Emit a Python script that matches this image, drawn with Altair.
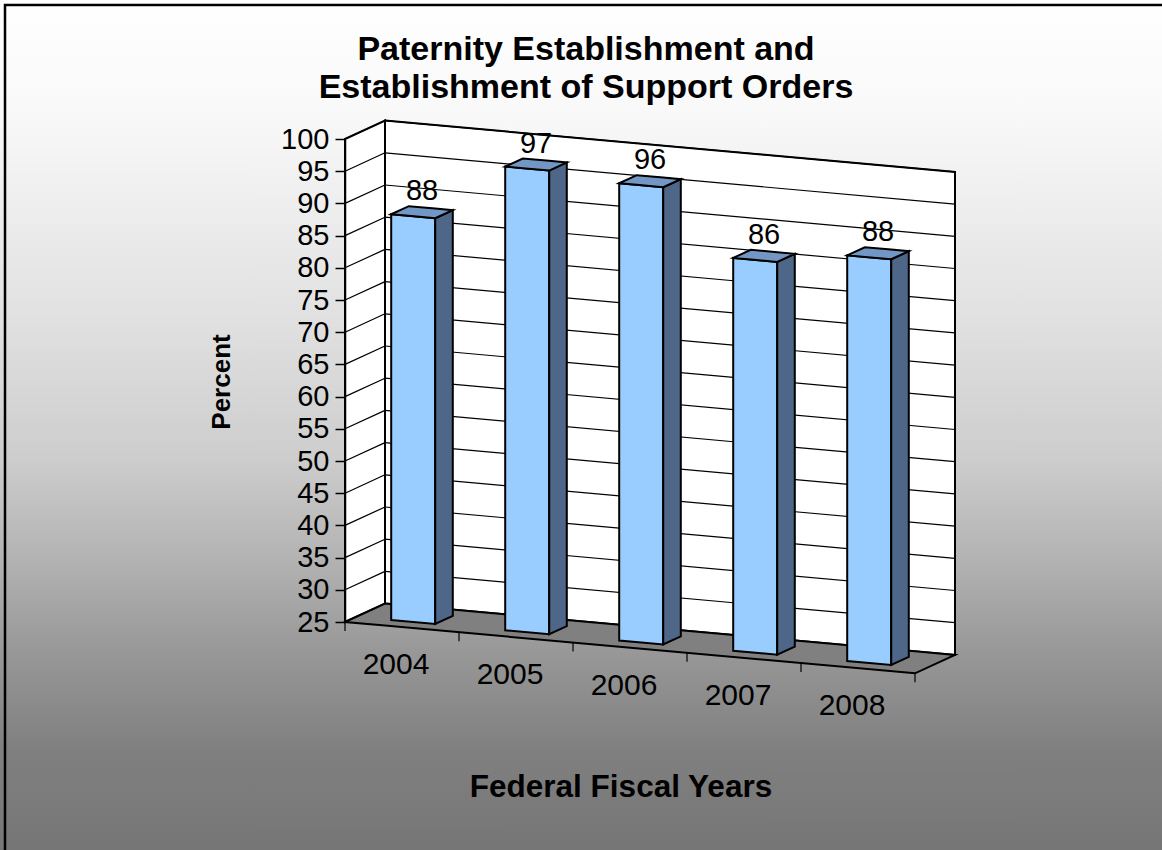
import altair as alt
import pandas as pd

# ---------------- data ----------------
years = [2004, 2005, 2006, 2007, 2008]
values = [88, 97, 96, 86, 88]
y_ticks = list(range(25, 105, 5))
title_lines = ["Paternity Establishment and", "Establishment of Support Orders"]
x_title = "Federal Fiscal Years"
y_title = "Percent"

# ---------------- layout / pseudo-3D geometry ----------------
CANVAS_W, CANVAS_H = 1162, 850
W, H = 570, 483
LEFT, TOP = 345, 139
Y_MIN, Y_MAX = 25, 100
X_MIN, X_MAX = 2003.5, 2008.5
KX = W / (X_MAX - X_MIN)
KY = H / (Y_MAX - Y_MIN)
DEPTH_X, DEPTH_Y = 40, 22      # px offset of back wall
TILT = 0.09                    # px down per px right (perspective tilt)
HALF_W = 22 / KX               # half width of bar front face
Z_FRONT, Z_BACK = 0.28, 0.72   # bar depth slice


def proj(u, v, z):
    X = u + z * DEPTH_X / KX
    Y = v + z * DEPTH_Y / KY - TILT * (X - X_MIN) * KX / KY
    return X, Y


def poly_rows(pts, pid, face):
    xs = sorted(set(round(p[0], 9) for p in pts))
    rows = []
    n = len(pts)
    for x in xs:
        ys = []
        for i in range(n):
            (x1, y1), (x2, y2) = pts[i], pts[(i + 1) % n]
            if abs(x1 - x) < 1e-8:
                ys.append(y1)
            if abs(x2 - x) < 1e-8:
                ys.append(y2)
            if (x1 - x) * (x2 - x) < 0:
                t = (x - x1) / (x2 - x1)
                ys.append(y1 + t * (y2 - y1))
        rows.append({"id": pid, "face": face, "X": x, "Y": max(ys), "Y2": min(ys)})
    return rows


# walls & floor
wall_rows = []
wall_rows += poly_rows([proj(X_MIN, Y_MIN, 0), proj(X_MIN, Y_MIN, 1),
                        proj(X_MIN, Y_MAX, 1), proj(X_MIN, Y_MAX, 0)], "leftwall", "wall")
wall_rows += poly_rows([proj(X_MIN, Y_MIN, 1), proj(X_MAX, Y_MIN, 1),
                        proj(X_MAX, Y_MAX, 1), proj(X_MIN, Y_MAX, 1)], "backwall", "wall")
wall_rows += poly_rows([proj(X_MIN, Y_MIN, 0), proj(X_MAX, Y_MIN, 0),
                        proj(X_MAX, Y_MIN, 1), proj(X_MIN, Y_MIN, 1)], "floor", "floor")
walls_df = pd.DataFrame(wall_rows)

# gridlines
grid_rows = []
for v in y_ticks[1:]:
    a = proj(X_MIN, v, 0)
    b = proj(X_MIN, v, 1)
    c = proj(X_MAX, v, 1)
    grid_rows.append({"X": a[0], "Y": a[1], "X2": b[0], "Y2": b[1]})
    grid_rows.append({"X": b[0], "Y": b[1], "X2": c[0], "Y2": c[1]})
# floor ticks between categories
for k in range(len(years) + 1):
    bx, by = proj(X_MIN + k, Y_MIN, 0)
    grid_rows.append({"X": bx, "Y": by, "X2": bx, "Y2": by - 9 / KY})
grid_df = pd.DataFrame(grid_rows)

# bars
bar_rows = []
for yr, val in zip(years, values):
    l, r = yr - HALF_W, yr + HALF_W
    bar_rows += poly_rows([proj(l, Y_MIN, Z_FRONT), proj(r, Y_MIN, Z_FRONT),
                           proj(r, val, Z_FRONT), proj(l, val, Z_FRONT)], f"f{yr}", "front")
    bar_rows += poly_rows([proj(r, Y_MIN, Z_FRONT), proj(r, Y_MIN, Z_BACK),
                           proj(r, val, Z_BACK), proj(r, val, Z_FRONT)], f"s{yr}", "side")
    bar_rows += poly_rows([proj(l, val, Z_FRONT), proj(r, val, Z_FRONT),
                           proj(r, val, Z_BACK), proj(l, val, Z_BACK)], f"t{yr}", "top")
bars_df = pd.DataFrame(bar_rows)

value_df = pd.DataFrame([
    {"X": proj(yr, val, 0.5)[0], "Y": proj(yr, val, 0.5)[1], "label": str(val)}
    for yr, val in zip(years, values)
])
year_df = pd.DataFrame([
    {"X": proj(yr, Y_MIN, 0)[0], "Y": proj(yr, Y_MIN, 0)[1], "label": str(yr)}
    for yr in years
])

FONT = "Liberation Sans"

x_scale = alt.Scale(domain=[X_MIN, X_MAX], nice=False, zero=False)
y_scale = alt.Scale(domain=[Y_MIN, Y_MAX], nice=False, zero=False)
y_axis = alt.Axis(values=y_ticks, title=None, grid=False, tickSize=10, tickWidth=1.5,
                  tickColor="black", domainColor="black", domainWidth=1.5,
                  labelFont=FONT, labelFontSize=29, labelColor="black",
                  labelPadding=6, zindex=1)
X_ENC = alt.X("X:Q", scale=x_scale, axis=None)
Y_ENC = alt.Y("Y:Q", scale=y_scale, axis=y_axis, stack=False)

face_scale = alt.Scale(domain=["wall", "floor", "front", "side", "top"],
                       range=["#ffffff", "#808080", "#99ccff", "#4e6688", "#7397c4"])

gradient = {
    "gradient": "linear", "x1": 0, "y1": 0, "x2": 0, "y2": 1,
    "stops": [
        {"offset": 0.0, "color": "#ffffff"},
        {"offset": 0.14, "color": "#f8f8f8"},
        {"offset": 0.38, "color": "#e0e0e0"},
        {"offset": 0.54, "color": "#cdcdcd"},
        {"offset": 0.66, "color": "#b2b2b2"},
        {"offset": 0.77, "color": "#979797"},
        {"offset": 0.88, "color": "#808080"},
        {"offset": 1.0, "color": "#767676"},
    ],
}

one = pd.DataFrame({"a": [0]})

bg = alt.Chart(one).mark_rect(fill=gradient, strokeWidth=0).encode(
    x=alt.value(-LEFT), x2=alt.value(CANVAS_W - LEFT),
    y=alt.value(-TOP), y2=alt.value(CANVAS_H - TOP))

border = alt.Chart(one).mark_rect(fillOpacity=0, stroke="black", strokeWidth=2.5).encode(
    x=alt.value(5 - LEFT), x2=alt.value(CANVAS_W + 20 - LEFT),
    y=alt.value(5 - TOP), y2=alt.value(CANVAS_H + 20 - TOP))

walls = alt.Chart(walls_df).mark_area(orient="vertical", stroke="black", strokeWidth=2,
                                      strokeJoin="miter", opacity=1).encode(
    x=X_ENC, y=Y_ENC, y2="Y2:Q", detail="id:N",
    color=alt.Color("face:N", scale=face_scale, legend=None))

grid = alt.Chart(grid_df).mark_rule(color="black", strokeWidth=1.2).encode(
    x=X_ENC, y=Y_ENC, x2="X2:Q", y2="Y2:Q")

bars = alt.Chart(bars_df).mark_area(orient="vertical", stroke="black", strokeWidth=2,
                                    strokeJoin="miter", opacity=1).encode(
    x=X_ENC, y=Y_ENC, y2="Y2:Q", detail="id:N",
    color=alt.Color("face:N", scale=face_scale, legend=None))

value_labels = alt.Chart(value_df).mark_text(font=FONT, fontSize=29, color="black",
                                             baseline="middle", align="center", dy=-21).encode(
    x=X_ENC, y=Y_ENC, text="label:N")

year_labels = alt.Chart(year_df).mark_text(font=FONT, fontSize=30, color="black",
                                           baseline="middle", align="center", dx=-6, dy=38).encode(
    x=X_ENC, y=Y_ENC, text="label:N")

t1 = alt.Chart(one).mark_text(font=FONT, fontSize=34, fontWeight="bold", color="black",
                              align="center", baseline="alphabetic").encode(
    x=alt.value(586 - LEFT), y=alt.value(60 - TOP), text=alt.value(title_lines[0]))
t2 = alt.Chart(one).mark_text(font=FONT, fontSize=34, fontWeight="bold", color="black",
                              align="center", baseline="alphabetic").encode(
    x=alt.value(586 - LEFT), y=alt.value(98 - TOP), text=alt.value(title_lines[1]))
xt = alt.Chart(one).mark_text(font=FONT, fontSize=31.5, fontWeight="bold", color="black",
                              align="center", baseline="alphabetic").encode(
    x=alt.value(621 - LEFT), y=alt.value(797 - TOP), text=alt.value(x_title))
yt = alt.Chart(one).mark_text(font=FONT, fontSize=26, fontWeight="bold", color="black",
                              align="center", baseline="middle", angle=270).encode(
    x=alt.value(222 - LEFT), y=alt.value(382 - TOP), text=alt.value(y_title))

chart = alt.layer(bg, border, walls, grid, bars, value_labels, year_labels, t1, t2, xt, yt).properties(
    width=W, height=H,
    autosize=alt.AutoSizeParams(type="none"),
    padding={"left": LEFT, "top": TOP, "right": CANVAS_W - LEFT - W, "bottom": CANVAS_H - TOP - H},
    background="#ffffff",
).configure_view(strokeWidth=0)

chart.save("out.html", embed_options={"renderer": "svg", "actions": False})
